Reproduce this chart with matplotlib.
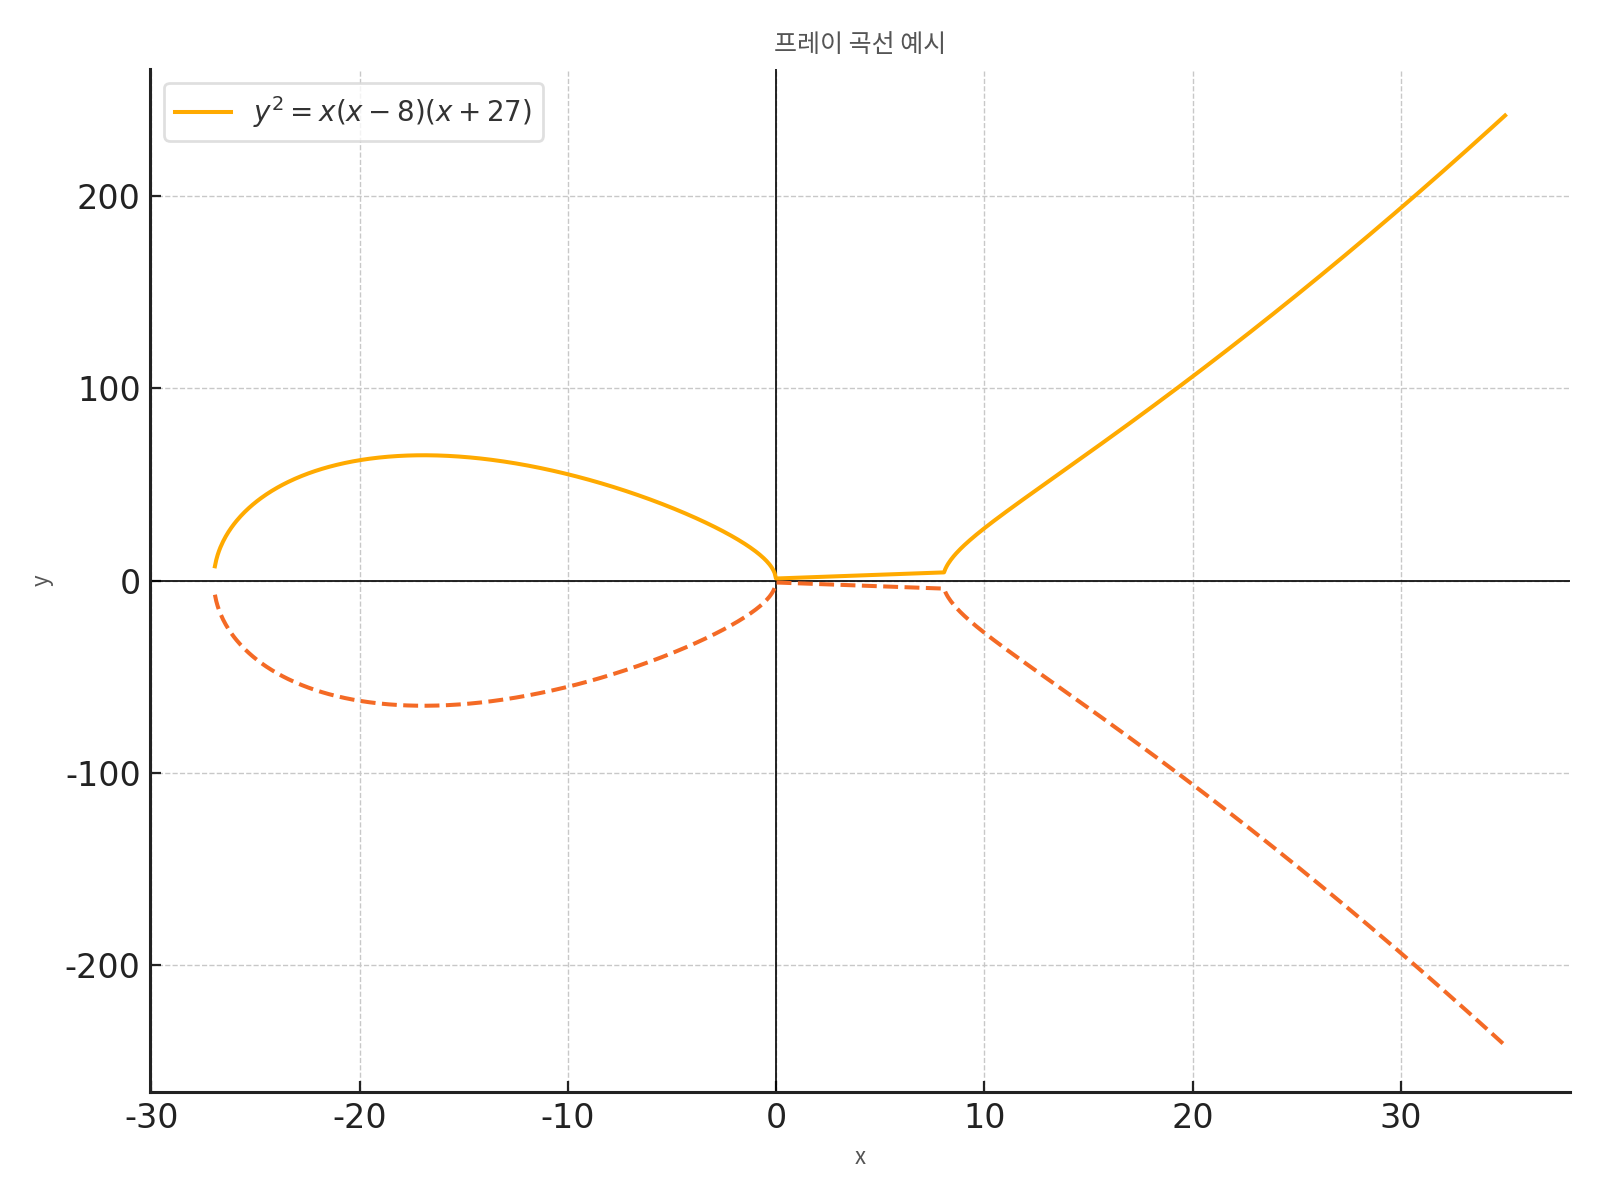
import numpy as np
import matplotlib
matplotlib.use('Agg')
from matplotlib import pyplot as plt

plt.rcParams['font.family'] = ['DejaVu Sans', 'Noto Sans CJK KR']
plt.rcParams['axes.unicode_minus'] = False

# curve y^2 = x(x - a)(x + b), sampled on a grid; points with y^2 < 0 are dropped
a = 8
b = 27
x_start = -30
x_end = 35
n_points = 1000

title = '프레이 곡선 예시'
legend_label = r'$y^2 = x(x-8)(x+27)$'
x_ticks = [-30, -20, -10, 0, 10, 20, 30]
y_ticks = [-200, -100, 0, 100, 200]

x = np.linspace(x_start, x_end, n_points)
y2 = x * (x - a) * (x + b)
ok = y2 >= 0
xv = x[ok]
yv = np.sqrt(y2[ok])

fig = plt.figure(figsize=(8, 6), dpi=200)
ax = fig.add_axes([0.094, 0.09, 0.887, 0.8525])

# zero lines
ax.axhline(0, color='black', lw=0.6, zorder=2)
ax.axvline(0, color='black', lw=0.6, zorder=2)

ax.plot(xv, yv, color='#ffaa00', lw=1.45, label=legend_label, zorder=3)
ax.plot(xv, -yv, color='#f46a25', lw=1.45, ls='--', zorder=3)

ax.set_xticks(x_ticks)
ax.set_yticks(y_ticks)
ax.tick_params(direction='in', labelsize=12, length=4, width=0.8, colors='#222222')
ax.grid(True, ls='--', lw=0.5, color='#c8c8c8')

for s in ['top', 'right']:
    ax.spines[s].set_visible(False)
for s in ['left', 'bottom']:
    ax.spines[s].set_linewidth(1.1)
    ax.spines[s].set_color('#222222')

cjk = ['Noto Sans CJK KR', 'DejaVu Sans']
ax.set_title(title, fontsize=9, color='#555555', pad=6, family=cjk)
ax.set_xlabel('x', fontsize=8, color='#555555', family=cjk)
ax.set_ylabel('y', fontsize=8, color='#555555', family=cjk)

leg = ax.legend(loc='upper left', fontsize=10, frameon=True, fancybox=True)
leg.get_frame().set_edgecolor('#d8d8d8')
leg.get_frame().set_linewidth(1.0)
for t in leg.get_texts():
    t.set_color('#333333')

fig.savefig('out.png', dpi=200)
